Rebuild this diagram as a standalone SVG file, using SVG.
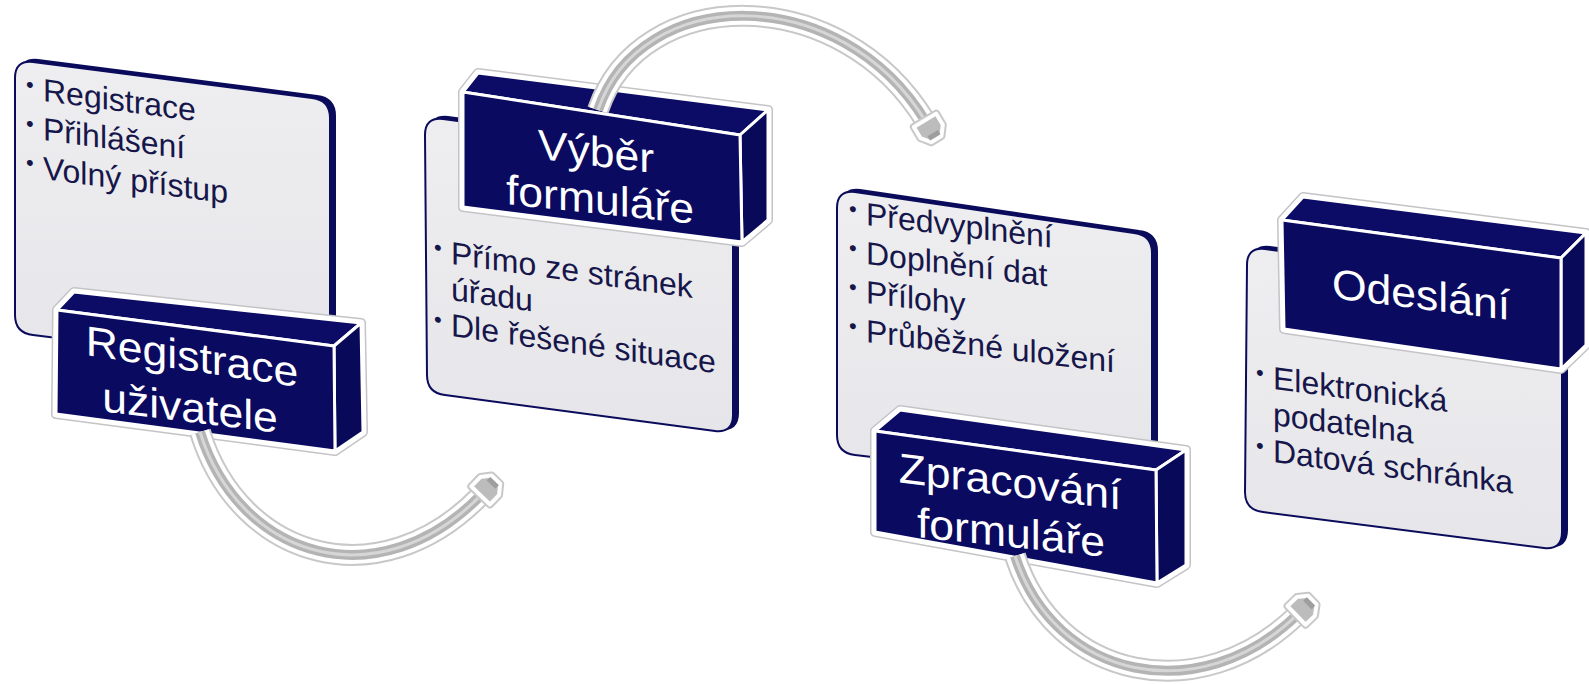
<svg xmlns="http://www.w3.org/2000/svg" width="1589" height="684" viewBox="0 0 1589 684">
<defs>
<linearGradient id="pg" x1="0" y1="0" x2="0" y2="1">
<stop offset="0" stop-color="#eeeef0"/>
<stop offset="1" stop-color="#e6e6ea"/>
</linearGradient>
</defs>
<style>
.depth{fill:#0b0b5c;stroke:#0b0b5c;stroke-width:2}
.panel{fill:url(#pg);stroke:#0b0b5c;stroke-width:2}
.halo{fill:#ffffff;stroke:#c4c4c8;stroke-width:10;stroke-linejoin:round}
.halo2{fill:#ffffff;stroke:#ffffff;stroke-width:7;stroke-linejoin:round}
.face{fill:#0a0a60;stroke:#ffffff;stroke-width:3;stroke-linejoin:round}
.top{fill:#0c0c66;stroke:#ffffff;stroke-width:3;stroke-linejoin:round}
.side{fill:#09095a;stroke:#ffffff;stroke-width:3;stroke-linejoin:round}
.title{font-family:"Liberation Sans",Arial,sans-serif;font-size:42px;fill:#ffffff;text-anchor:middle}
.item{font-family:"Liberation Sans",Arial,sans-serif;font-size:32px;fill:#16164a}
.bul{font-family:"Liberation Sans",Arial,sans-serif;font-size:22px;fill:#16164a}
.a0{fill:none;stroke:#c8c8c8;stroke-width:22;stroke-linecap:butt}
.a1{fill:none;stroke:#ffffff;stroke-width:18;stroke-linecap:butt}
.a2{fill:none;stroke:#b4b4b4;stroke-width:10;stroke-linecap:butt}
.a3{fill:none;stroke:#d6d6d6;stroke-width:3;stroke-linecap:butt}
.head{fill:#bcbcbc;stroke:#ffffff;stroke-width:4;stroke-linejoin:round}
.headout{fill:none;stroke:#c8c8c8;stroke-width:8;stroke-linejoin:round}
.headend{fill:#9e9e9e}
</style>
<rect width="1589" height="684" fill="#ffffff"/>

<g id="node1">
<path class="depth" transform="translate(5,-2)" d="M15,78 Q15,60 33,62 L312,98 Q330,100 330,118 L330,372 L33,335 Q15,333 15,315 Z"/>
<path class="panel" d="M15,78 Q15,60 33,62 L312,98 Q330,100 330,118 L330,372 L33,335 Q15,333 15,315 Z"/>
<g transform="translate(43,101) skewY(7.5)">
<text class="bul" x="-17" y="-7">•</text><text class="item" x="0" y="0">Registrace</text>
<text class="bul" x="-17" y="32">•</text><text class="item" x="0" y="39">Přihlášení</text>
<text class="bul" x="-17" y="71">•</text><text class="item" x="0" y="78">Volný přístup</text>
</g>
<polygon class="halo" points="74,292 361,323 363,432 335,451 56,414 57,310"/>
<polygon class="halo2" points="74,292 361,323 363,432 335,451 56,414 57,310"/>
<polygon class="top" points="74,292 361,323 334,346 57,310"/>
<polygon class="side" points="334,346 361,323 363,432 335,451"/>
<polygon class="face" points="57,310 334,346 335,451 56,414"/>
<g transform="translate(192,371) skewY(8.5) scale(1.06,1)"><text class="title" x="0" y="0">Registrace</text></g>
<g transform="translate(190,422) skewY(7) scale(1.06,1)"><text class="title" x="0" y="0">uživatele</text></g>
</g>

<g id="node2">
<path class="depth" transform="translate(5,-2)" d="M425,135 Q425,117 443,119 L715,155 Q733,157 733,175 L733,415 Q733,433 715,431 L445,395 Q427,393 427,375 Z"/>
<path class="panel" d="M425,135 Q425,117 443,119 L715,155 Q733,157 733,175 L733,415 Q733,433 715,431 L445,395 Q427,393 427,375 Z"/>
<g transform="translate(451,264) skewY(8)">
<text class="bul" x="-17" y="-7">•</text><text class="item" x="0" y="0">Přímo ze stránek</text>
<text class="item" x="0" y="36">úřadu</text>
<text class="bul" x="-17" y="65">•</text><text class="item" x="0" y="72">Dle řešené situace</text>
</g>
<polygon class="halo" points="478,73 768,110 768,220 742,242 463,207 463,92"/>
<polygon class="halo2" points="478,73 768,110 768,220 742,242 463,207 463,92"/>
<polygon class="top" points="478,73 768,110 740,135 463,92"/>
<polygon class="side" points="740,135 768,110 768,220 742,242"/>
<polygon class="face" points="463,92 740,135 742,242 463,207"/>
<g transform="translate(596,166) skewY(7) scale(1.06,1)"><text class="title" x="0" y="0">Výběr</text></g>
<g transform="translate(600,214) skewY(6) scale(1.06,1)"><text class="title" x="0" y="0">formuláře</text></g>
</g>

<g id="node3">
<path class="depth" transform="translate(5,-2)" d="M837,208 Q837,190 855,192 L1134,233 Q1152,235 1152,253 L1152,490 L855,455 Q837,453 837,435 Z"/>
<path class="panel" d="M837,208 Q837,190 855,192 L1134,233 Q1152,235 1152,253 L1152,490 L855,455 Q837,453 837,435 Z"/>
<g transform="translate(866,225) skewY(7)">
<text class="bul" x="-17" y="-7">•</text><text class="item" x="0" y="0">Předvyplnění</text>
<text class="bul" x="-17" y="32">•</text><text class="item" x="0" y="39">Doplnění dat</text>
<text class="bul" x="-17" y="71">•</text><text class="item" x="0" y="78">Přílohy</text>
<text class="bul" x="-17" y="110">•</text><text class="item" x="0" y="117">Průběžné uložení</text>
</g>
<polygon class="halo" points="900,410 1186,450 1186,565 1157,583 875,532 875,431"/>
<polygon class="halo2" points="900,410 1186,450 1186,565 1157,583 875,532 875,431"/>
<polygon class="top" points="900,410 1186,450 1156,470 875,431"/>
<polygon class="side" points="1156,470 1186,450 1186,565 1157,583"/>
<polygon class="face" points="875,431 1156,470 1157,583 875,532"/>
<g transform="translate(1010,496) skewY(7) scale(1.06,1)"><text class="title" x="0" y="0">Zpracování</text></g>
<g transform="translate(1011,547) skewY(6) scale(1.06,1)"><text class="title" x="0" y="0">formuláře</text></g>
</g>

<g id="node4">
<path class="depth" transform="translate(5,-2)" d="M1247,265 Q1247,247 1265,249 L1544,286 Q1562,288 1562,306 L1562,532 Q1562,550 1544,548 L1263,512 Q1245,510 1245,492 Z"/>
<path class="panel" d="M1247,265 Q1247,247 1265,249 L1544,286 Q1562,288 1562,306 L1562,532 Q1562,550 1544,548 L1263,512 Q1245,510 1245,492 Z"/>
<g transform="translate(1273,389) skewY(7.5)">
<text class="bul" x="-17" y="-7">•</text><text class="item" x="0" y="0">Elektronická</text>
<text class="item" x="0" y="36">podatelna</text>
<text class="bul" x="-17" y="66">•</text><text class="item" x="0" y="73">Datová schránka</text>
</g>
<polygon class="halo" points="1303,197 1586,233 1586,345 1561,369 1284,329 1282,220"/>
<polygon class="halo2" points="1303,197 1586,233 1586,345 1561,369 1284,329 1282,220"/>
<polygon class="top" points="1303,197 1586,233 1561,258 1282,220"/>
<polygon class="side" points="1561,258 1586,233 1586,345 1561,369"/>
<polygon class="face" points="1282,220 1561,258 1561,369 1284,329"/>
<g transform="translate(1421,309) skewY(7) scale(1.06,1)"><text class="title" x="0" y="0">Odeslání</text></g>
</g>

<g id="connectors">
<g id="arrow1">
<path class="a0" d="M200,432 C240,560 380,600 482,494"/>
<path class="a1" d="M200,432 C240,560 380,600 482,494"/>
<path class="a2" d="M200,432 C240,560 380,600 482,494"/>
<path class="a3" d="M200,432 C240,560 380,600 482,494"/>
<g transform="translate(482,494) rotate(-46)">
<polygon class="headout" points="-2,-13 11,-13 20,-6 20,6 11,13 -2,13"/>
<polygon class="head" points="-2,-13 11,-13 20,-6 20,6 11,13 -2,13"/>
<rect class="headend" x="13" y="-6" width="5" height="12"/>
</g>
</g>
<g id="arrow2">
<path class="a0" d="M598,110 C640,-15 840,-20 926,122"/>
<path class="a1" d="M598,110 C640,-15 840,-20 926,122"/>
<path class="a2" d="M598,110 C640,-15 840,-20 926,122"/>
<path class="a3" d="M598,110 C640,-15 840,-20 926,122"/>
<g transform="translate(926,122) rotate(59)">
<polygon class="headout" points="-2,-13 11,-13 20,-6 20,6 11,13 -2,13"/>
<polygon class="head" points="-2,-13 11,-13 20,-6 20,6 11,13 -2,13"/>
<rect class="headend" x="13" y="-6" width="5" height="12"/>
</g>
</g>
<g id="arrow3">
<path class="a0" d="M1015,556 C1055,680 1200,710 1298,614"/>
<path class="a1" d="M1015,556 C1055,680 1200,710 1298,614"/>
<path class="a2" d="M1015,556 C1055,680 1200,710 1298,614"/>
<path class="a3" d="M1015,556 C1055,680 1200,710 1298,614"/>
<g transform="translate(1298,614) rotate(-44)">
<polygon class="headout" points="-2,-13 11,-13 20,-6 20,6 11,13 -2,13"/>
<polygon class="head" points="-2,-13 11,-13 20,-6 20,6 11,13 -2,13"/>
<rect class="headend" x="13" y="-6" width="5" height="12"/>
</g>
</g>
</g>
</svg>
